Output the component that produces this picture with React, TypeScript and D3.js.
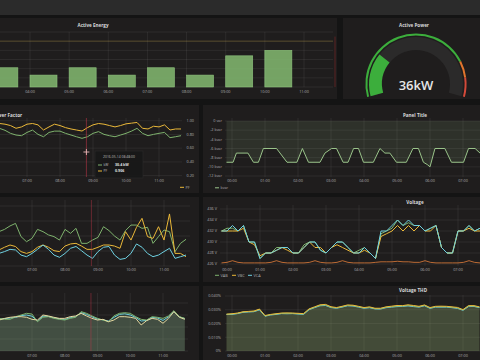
import * as d3 from "d3";

const GREEN = "#7EB26D";
const YELLOW = "#EAB839";
const BLUE = "#6ED0E0";
const ORANGE = "#EF843C";
const PANEL = "#1f1d1d";
const GRID = "rgba(255,255,255,0.09)";
const TICK = "#aeaeae";
const TITLE = "#d8d9da";
const FONT = "'Open Sans', 'Noto Sans', sans-serif";

const at = (h: number, m = 0) => new Date(2016, 4, 14, h, m);
const fmtHour = d3.timeFormat("%H:%M");

// Active Energy, one bar per hour (kWh)
const energyHours = [3, 4, 5, 6, 7, 8, 9, 10];
const energyValues = [21, 13, 21, 13, 21, 13, 34, 40];
const energyThreshold = 50;

// Active Power gauge (kW)
const powerValue = 36;
const powerMax = 140;
const powerWarn = 112;
const powerCrit = 125;

// Power Factor panel, 10 minute samples from 06:00
const pfStart = at(6, 0);
const pfKw = [37.5, 37.1, 35.6, 33.3, 32, 31.5, 34, 35.8, 32.5, 30.7, 34, 35, 35, 33.3, 32, 30.7, 29.5, 30.7, 33.3, 34.6, 32.5, 31.5, 30.7, 32, 33.3, 35, 37.1, 33.3, 31.5, 32.5, 33.3, 34, 30, 30.7, 31.5];
const pfValues = [0.95, 0.96, 0.95, 0.93, 0.89, 0.91, 0.95, 0.96, 0.94, 0.865, 0.91, 0.95, 0.93, 0.9, 0.88, 0.865, 0.85, 0.9, 0.94, 0.96, 0.95, 0.93, 0.91, 0.93, 0.955, 0.965, 0.975, 0.89, 0.88, 0.92, 0.91, 0.94, 0.865, 0.88, 0.88];
const pfTicks = [0.2, 0.4, 0.6, 0.8, 1.0];
const cursorTime = at(8, 48);

// Panel Title (reactive power), irregular samples, minutes after 00:00
const kvarMinutes = [-10, 2, 8, 29, 39, 48, 57, 81, 100, 118, 128, 139, 160, 169, 181, 190, 202, 211, 221, 230, 239, 257, 269, 278, 287, 299, 317, 329, 339, 348, 355, 360, 369, 387, 399, 421, 430, 442, 451];
const kvarValues = [-9, -9, -7, -7, -9, -9, -6, -6, -9, -9, -6, -9, -9, -7, -6, -6, -9, -9, -6, -6, -9, -9, -6, -7, -7, -9, -9, -6, -6, -9, -9.5, -10, -6, -6, -9, -9, -6, -6, -7];
const kvarTicks = [-12, -10, -8, -6, -4, -2, 0];

// third row left, 10 minute samples from 06:00
const curStart = at(6, 0);
const curGreen = [22.9, 24.4, 26.7, 28.4, 19.6, 16.2, 18.4, 24.4, 22.9, 20.7, 19.6, 17.3, 24.4, 21.8, 25.1, 15.1, 15.1, 17.3, 19.1, 26.2, 23.6, 20.0, 17.3, 23.6, 27.3, 27.3, 25.1, 25.8, 15.1, 19.6, 24.0, 22.9, 9.6, 15.1, 17.8];
const curYellow = [10.7, 12.5, 14.0, 13.0, 9.6, 8.4, 9.6, 12.5, 14.0, 12.5, 10.2, 9.6, 13.3, 14.7, 15.1, 13.3, 11.1, 11.1, 12.5, 14.0, 14.0, 13.3, 11.8, 22.9, 17.3, 25.8, 31.8, 19.6, 18.4, 26.2, 17.3, 34.7, 8.4, 8.4, 6.2];
const curBlue = [8.4, 9.6, 11.1, 10.7, 7.3, 6.2, 8.4, 11.1, 14.0, 11.1, 7.3, 5.8, 8.4, 11.8, 13.0, 10.2, 7.3, 5.1, 9.6, 12.5, 13.0, 7.3, 4.4, 5.1, 8.4, 14.7, 12.5, 8.4, 6.2, 7.3, 9.6, 11.8, 5.1, 6.2, 7.3];
const curTicks = [0, 10, 20, 30, 40];

// Voltage, 10 minute samples from 23:50
const voltStart = at(0, -10);
const vab = [432, 432.5, 432.5, 432, 433, 430, 430, 427, 428, 428, 429, 429, 429, 428, 428, 429.5, 430, 430, 428.5, 428, 429, 430, 430, 429, 428, 428.5, 429, 428, 427, 431.5, 432, 432.5, 434, 433, 433.5, 433, 433, 432, 432.5, 433, 429, 428, 428, 432, 432, 433, 432, 432.5];
const vbc = [432, 432, 432, 432, 432.5, 430, 429.5, 427.5, 428, 428, 428.5, 429, 428.5, 428, 428, 429, 430, 429, 429, 428, 429, 429.5, 429, 428.5, 428, 428, 428.5, 428, 427, 431, 431.5, 432, 433, 432, 433, 432, 433, 432, 432, 433, 429, 428, 428, 432, 432, 432.5, 432, 432];
const vca = [432, 432, 433, 432, 433, 430, 430, 427, 428, 428, 428.5, 429, 429, 428, 428, 429, 430, 430, 428.5, 428, 429, 430, 430, 429, 428, 428, 429, 428, 427, 432, 432, 433, 434, 433, 434, 433, 433, 432, 432.5, 433, 429, 428, 428, 432, 432, 433, 432, 432.5];
const vLow = [426.2, 426.3, 426.6, 426.3, 426.2, 426.2, 426.2, 426.2, 426.2, 426.3, 426.6, 426.3, 426.2, 426.2, 426.2, 426.2, 426.3, 426.6, 426.3, 426.2, 426.2, 426.3, 426.6, 426.3, 426.2, 426.2, 426.2, 426.2, 426.3, 426.4, 426.4, 426.4, 426.5, 426.4, 426.4, 426.3, 426.3, 426.6, 426.3, 426.2, 426.2, 426.2, 426.2, 426.2, 426.3, 426.6, 426.3, 426.2];
const voltTicks = [426, 428, 430, 432, 434, 436];

// fourth row left, 10 minute samples from 06:00
const thdLStart = at(6, 0);
const thdLGreen = [2.72, 2.64, 2.64, 2.86, 3.0, 3.14, 3.08, 2.44, 2.81, 2.86, 2.72, 2.64, 2.58, 2.72, 2.81, 3.28, 3.14, 2.92, 2.72, 2.58, 2.44, 2.92, 3.14, 3.19, 3.14, 2.86, 2.64, 2.58, 2.86, 2.81, 2.72, 2.92, 3.36, 2.86, 2.72];
const thdLYellow = [2.58, 2.72, 2.81, 2.86, 2.86, 2.81, 2.64, 2.58, 3.0, 2.92, 2.81, 2.72, 2.72, 2.86, 2.92, 3.14, 2.92, 2.72, 2.58, 2.64, 2.44, 2.58, 2.86, 2.86, 2.81, 2.72, 2.17, 2.53, 2.72, 2.64, 2.31, 2.72, 3.28, 2.81, 2.64];
const thdLBlue = [2.66, 2.7, 2.75, 2.8, 2.95, 3.0, 2.9, 2.5, 2.9, 2.88, 2.76, 2.68, 2.62, 2.78, 2.86, 3.2, 3.05, 2.85, 2.66, 2.6, 2.5, 2.8, 3.05, 3.1, 3.0, 2.8, 2.5, 2.55, 2.8, 2.75, 2.55, 2.85, 3.3, 2.85, 2.7];
const thdLTicks = [0, 1, 2, 3, 4];

// Voltage THD (%), 10 minute samples from 23:50
const thdStart = at(0, -10);
const thdGreen = [0.0267, 0.0269, 0.0274, 0.0284, 0.0286, 0.0288, 0.0303, 0.0255, 0.0264, 0.0269, 0.0274, 0.0274, 0.0274, 0.0271, 0.0269, 0.0303, 0.0318, 0.0332, 0.0335, 0.0318, 0.0313, 0.0322, 0.0332, 0.033, 0.0322, 0.0313, 0.0318, 0.0308, 0.0308, 0.0318, 0.0322, 0.0327, 0.0327, 0.0332, 0.0327, 0.0322, 0.0332, 0.0313, 0.0322, 0.0322, 0.0322, 0.0318, 0.0313, 0.0298, 0.0327, 0.0327, 0.0318];
const thdYellow = [0.0268, 0.0271, 0.0276, 0.0285, 0.0288, 0.0291, 0.0305, 0.0258, 0.0266, 0.0271, 0.0276, 0.0277, 0.0276, 0.0274, 0.0272, 0.0306, 0.0321, 0.0336, 0.0339, 0.0322, 0.0316, 0.0325, 0.0335, 0.0333, 0.0325, 0.0316, 0.0321, 0.0311, 0.0311, 0.0321, 0.0326, 0.0331, 0.033, 0.0336, 0.0331, 0.0325, 0.0335, 0.0316, 0.0325, 0.0326, 0.0325, 0.0321, 0.0317, 0.0301, 0.033, 0.033, 0.0321];
const thdBlue = [0.0265, 0.0266, 0.0272, 0.0281, 0.0284, 0.0286, 0.0299, 0.0253, 0.0262, 0.0266, 0.0272, 0.0271, 0.0272, 0.0269, 0.0266, 0.03, 0.0315, 0.0329, 0.0331, 0.0316, 0.0311, 0.0319, 0.0329, 0.0327, 0.0319, 0.0311, 0.0315, 0.0306, 0.0305, 0.0315, 0.0319, 0.0323, 0.0324, 0.0328, 0.0323, 0.0319, 0.0329, 0.031, 0.0319, 0.0319, 0.0319, 0.0315, 0.031, 0.0296, 0.0323, 0.0324, 0.0315];
const thdTicks = [0, 0.01, 0.02, 0.03, 0.04];

type Pt = { t: Date; v: number };
const every10 = (start: Date, values: number[]): Pt[] =>
  values.map((v, i) => ({ t: new Date(+start + i * 600000), v }));

type Series = {
  pts: Pt[];
  color: string;
  y?: d3.ScaleLinear<number, number>;
  fill?: number;
  base?: number;
  opacity?: number;
};

type Plot = { left: number; right: number; top: number; bottom: number };

function TimePanel(props: {
  id: string;
  box: [number, number, number, number];
  title?: string;
  titleX?: number;
  titleY?: number;
  plot: Plot;
  x: d3.ScaleTime<number, number>;
  y: d3.ScaleLinear<number, number>;
  yTicks: number[];
  yFormat?: (v: number) => string;
  yLabelX?: number;
  yAnchor?: "start" | "end";
  series: Series[];
  labelY: number;
  legend?: { label: string; color: string; x: number }[];
  legendY?: number;
  children?: any;
}) {
  const { id, box, plot, x, y } = props;
  const hours = d3.timeHour.range(x.invert(plot.left - 8), x.invert(plot.right));
  // labels that would be cut by the window edge are left out
  const labelled = hours.filter((h) => x(h) > 10);
  return (
    <g>
      <defs>
        <clipPath id={id}>
          <rect x={plot.left} y={plot.top} width={plot.right - plot.left} height={plot.bottom - plot.top} />
        </clipPath>
      </defs>
      <rect x={box[0]} y={box[1]} width={box[2]} height={box[3]} fill={PANEL} />
      {props.title && (
        <text x={props.titleX} y={props.titleY} fontSize={4.6} fontWeight={700} fill={TITLE} textAnchor="middle">
          {props.title}
        </text>
      )}
      {props.yTicks.map((v) => (
        <line key={"h" + v} x1={plot.left} x2={plot.right} y1={y(v)} y2={y(v)} stroke={GRID} strokeWidth={0.7} />
      ))}
      {hours.map((h) => (
        <line key={"v" + +h} x1={x(h)} x2={x(h)} y1={plot.top} y2={plot.bottom} stroke={GRID} strokeWidth={0.7} />
      ))}
      <g clipPath={`url(#${id})`}>
        {props.series.map((s, i) => {
          const ys = s.y ?? y;
          if (!s.fill) return null;
          const area = d3
            .area<Pt>()
            .x((d) => x(d.t))
            .y0(ys(s.base ?? 0))
            .y1((d) => ys(d.v));
          return <path key={"a" + i} d={area(s.pts) ?? ""} fill={s.color} fillOpacity={s.fill} />;
        })}
        {props.series.map((s, i) => {
          const ys = s.y ?? y;
          const line = d3
            .line<Pt>()
            .x((d) => x(d.t))
            .y((d) => ys(d.v));
          return (
            <path key={"l" + i} d={line(s.pts) ?? ""} fill="none" stroke={s.color} strokeOpacity={s.opacity ?? 1} strokeWidth={1} />
          );
        })}
        {props.children}
      </g>
      {props.yFormat &&
        props.yTicks.map((v) => (
          <text key={"yl" + v} x={props.yLabelX} y={y(v) + 1.3} fontSize={3.8} fill={TICK} textAnchor={props.yAnchor ?? "end"}>
            {props.yFormat!(v)}
          </text>
        ))}
      {labelled.map((h) => (
        <text key={"xl" + +h} x={x(h)} y={props.labelY} fontSize={3.8} fill={TICK} textAnchor="middle">
          {fmtHour(h)}
        </text>
      ))}
      {props.legend?.map((l) => (
        <g key={l.label}>
          <line x1={l.x} x2={l.x + 4} y1={props.legendY! - 1.2} y2={props.legendY! - 1.2} stroke={l.color} strokeWidth={1} />
          <text x={l.x + 5.5} y={props.legendY} fontSize={3.8} fill={TICK}>
            {l.label}
          </text>
        </g>
      ))}
    </g>
  );
}

function EnergyPanel() {
  const x = d3.scaleTime().domain([at(4), at(11)]).range([30, 304]);
  const y = d3.scaleLinear().domain([0, 60]).range([87, 32]);
  const left = 0;
  const right = 333;
  const hours = d3.timeHour.range(x.invert(left), x.invert(right));
  const barW = (x(at(1)) - x(at(0))) * 0.69;
  return (
    <g>
      <rect x={-10} y={18} width={347} height={81} fill={PANEL} />
      <text x={93} y={27} fontSize={4.6} fontWeight={700} fill={TITLE} textAnchor="middle">
        Active Energy
      </text>
      {y.ticks(6).map((v) => (
        <line key={v} x1={left} x2={right} y1={y(v)} y2={y(v)} stroke={GRID} strokeWidth={0.7} />
      ))}
      {hours.map((h) => (
        <line key={+h} x1={x(h)} x2={x(h)} y1={y(60)} y2={y(0)} stroke={GRID} strokeWidth={0.7} />
      ))}
      <line x1={left} x2={right} y1={y(energyThreshold)} y2={y(energyThreshold)} stroke={YELLOW} strokeOpacity={0.3} strokeWidth={0.8} />
      <line x1={335} x2={335} y1={y(55)} y2={y(0)} stroke="#6a2424" strokeWidth={0.8} />
      {energyHours.map((h, i) => (
        <rect
          key={h}
          x={x(at(h))}
          y={y(energyValues[i])}
          width={barW}
          height={y(0) - y(energyValues[i])}
          fill={GREEN}
          fillOpacity={0.9}
          stroke="#8fc47d"
          strokeWidth={0.6}
        />
      ))}
      {hours.map((h) => (
        <text key={"t" + +h} x={x(h)} y={93} fontSize={3.8} fill={TICK} textAnchor="middle">
          {fmtHour(h)}
        </text>
      ))}
    </g>
  );
}

function GaugePanel() {
  const cx = 416;
  const cy = 84;
  const a = d3.scaleLinear().domain([0, powerMax]).range([(-105 * Math.PI) / 180, (105 * Math.PI) / 180]);
  const arc = d3.arc<any>();
  const bands = [
    { from: 0, to: powerWarn, color: "#3cae3c" },
    { from: powerWarn, to: powerCrit, color: "#e0752d" },
    { from: powerCrit, to: powerMax, color: "#d44a3a" },
  ];
  return (
    <g>
      <rect x={343} y={18} width={150} height={81} fill={PANEL} />
      <text x={414} y={26.5} fontSize={4.6} fontWeight={700} fill={TITLE} textAnchor="middle">
        Active Power
      </text>
      <g transform={`translate(${cx},${cy})`}>
        <path d={arc({ innerRadius: 34, outerRadius: 47, startAngle: a(0), endAngle: a(powerMax) }) ?? ""} fill="#2b2a2a" />
        <path d={arc({ innerRadius: 34, outerRadius: 47, startAngle: a(0), endAngle: a(powerValue) }) ?? ""} fill="#3cae3c" />
        {bands.map((b) => (
          <path
            key={b.color}
            d={arc({ innerRadius: 48.6, outerRadius: 50.6, startAngle: a(b.from), endAngle: a(b.to) }) ?? ""}
            fill={b.color}
          />
        ))}
      </g>
      <text x={cx} y={89.5} fontSize={13} fontWeight={600} fill="#e6e6e6" textAnchor="middle">
        {powerValue}kW
      </text>
    </g>
  );
}

export default function App() {
  // Power Factor
  const pfX = d3.scaleTime().domain([at(7), at(11)]).range([27, 159]);
  const pfY = d3.scaleLinear().domain([0.18, 1.04]).range([177, 118]);
  const kwY = d3.scaleLinear().domain([0, 45]).range([177, 118]);
  const cx = pfX(cursorTime);

  // Panel Title (kvar)
  const kX = d3.scaleTime().domain([at(0), at(7)]).range([232, 463]);
  const kY = d3.scaleLinear().domain([-12, 0]).range([176, 121]);
  const kvarPts = kvarMinutes.map((m, i) => ({ t: at(0, m), v: kvarValues[i] }));

  // third row
  const cX = d3.scaleTime().domain([at(7), at(11)]).range([32, 164]);
  const cY = d3.scaleLinear().domain([0, 40]).range([266, 206]);
  const vX = d3.scaleTime().domain([at(0), at(7)]).range([227, 458]);
  const vY = d3.scaleLinear().domain([426, 436]).range([264, 209]);

  // fourth row
  const tX = d3.scaleTime().domain([at(7), at(11)]).range([32, 163]);
  const tY = d3.scaleLinear().domain([0, 4.5]).range([351, 297]);
  const hX = d3.scaleTime().domain([at(0), at(7)]).range([232, 463]);
  const hY = d3.scaleLinear().domain([0, 0.04]).range([351, 296]);

  return (
    <svg
      width={480}
      height={360}
      viewBox="0 0 480 360"
      style={{ position: "fixed", left: 0, top: 0 }}
      fontFamily={FONT}
    >
      <rect width={480} height={360} fill="#141414" />
      <rect width={480} height={15} fill="#2b2b2b" />

      <EnergyPanel />
      <GaugePanel />

      <TimePanel
        id="pf"
        box={[-10, 105, 209, 88]}
        title="Power Factor"
        titleX={7}
        titleY={116.5}
        plot={{ left: -10, right: 182, top: 118, bottom: 177 }}
        x={pfX}
        y={pfY}
        yTicks={pfTicks}
        yFormat={(v) => v.toFixed(2)}
        yLabelX={186.5}
        yAnchor="start"
        series={[
          { pts: every10(pfStart, pfKw), color: GREEN, y: kwY },
          { pts: every10(pfStart, pfValues), color: YELLOW },
        ]}
        labelY={181.5}
        legend={[{ label: "PF", color: YELLOW, x: 180 }]}
        legendY={188.5}
      >
        <line x1={cx} x2={cx} y1={118} y2={177} stroke="#c0384a" strokeOpacity={0.7} strokeWidth={0.8} />
      </TimePanel>
      {/* cursor + tooltip */}
      <path d={`M${cx - 3},152H${cx + 3}M${cx},149V155`} stroke="#e8b8b8" strokeWidth={0.9} />
      <rect x={95} y={151} width={48} height={27} fill="#181818" fillOpacity={0.92} stroke="#2e2e2e" strokeWidth={0.5} />
      <text x={119} y={157.5} fontSize={3.4} fill="#bfbfbf" textAnchor="middle">
        2016-05-14 08:48:00
      </text>
      <line x1={98} x2={102} y1={165} y2={165} stroke={GREEN} strokeWidth={1} />
      <text x={103.5} y={166.3} fontSize={3.4} fill="#bfbfbf">kW</text>
      <text x={115} y={166.3} fontSize={3.6} fontWeight={700} fill="#e0e0e0">30.4 kW</text>
      <line x1={98} x2={102} y1={171} y2={171} stroke={YELLOW} strokeWidth={1} />
      <text x={103.5} y={172.3} fontSize={3.4} fill="#bfbfbf">PF</text>
      <text x={115} y={172.3} fontSize={3.6} fontWeight={700} fill="#e0e0e0">0.906</text>

      <TimePanel
        id="kvar"
        box={[203, 105, 290, 88]}
        title="Panel Title"
        titleX={415}
        titleY={116.5}
        plot={{ left: 225, right: 485, top: 118, bottom: 177 }}
        x={kX}
        y={kY}
        yTicks={kvarTicks}
        yFormat={(v) => (v === 0 ? "0 var" : `${v} kvar`)}
        yLabelX={222}
        series={[{ pts: kvarPts, color: "#9ac48a", fill: 0.12, base: 0 }]}
        labelY={181.5}
        legend={[{ label: "kvar", color: "#9ac48a", x: 215 }]}
        legendY={189}
      />

      <TimePanel
        id="cur"
        box={[-10, 197, 209, 85]}
        plot={{ left: -10, right: 190, top: 200, bottom: 266 }}
        x={cX}
        y={cY}
        yTicks={curTicks}
        series={[
          { pts: every10(curStart, curGreen), color: GREEN },
          { pts: every10(curStart, curYellow), color: YELLOW },
          { pts: every10(curStart, curBlue), color: BLUE },
        ]}
        labelY={270.5}
      >
        <line x1={cX(cursorTime)} x2={cX(cursorTime)} y1={200} y2={266} stroke="#c0384a" strokeOpacity={0.55} strokeWidth={0.8} />
      </TimePanel>

      <TimePanel
        id="volt"
        box={[203, 197, 290, 85]}
        title="Voltage"
        titleX={415}
        titleY={203.5}
        plot={{ left: 220, right: 485, top: 205, bottom: 266 }}
        x={vX}
        y={vY}
        yTicks={voltTicks}
        yFormat={(v) => `${v} V`}
        yLabelX={217}
        series={[
          { pts: every10(voltStart, vLow), color: ORANGE, opacity: 0.75 },
          { pts: every10(voltStart, vab), color: GREEN },
          { pts: every10(voltStart, vbc), color: YELLOW },
          { pts: every10(voltStart, vca), color: BLUE },
        ]}
        labelY={270.5}
        legend={[
          { label: "VAB", color: GREEN, x: 215 },
          { label: "VBC", color: YELLOW, x: 232 },
          { label: "VCA", color: BLUE, x: 248 },
        ]}
        legendY={276.5}
      />

      <TimePanel
        id="thdl"
        box={[-10, 286, 209, 80]}
        plot={{ left: -10, right: 188, top: 293, bottom: 351 }}
        x={tX}
        y={tY}
        yTicks={thdLTicks}
        series={[
          { pts: every10(thdLStart, thdLBlue), color: BLUE, fill: 0.1 },
          { pts: every10(thdLStart, thdLGreen), color: GREEN, fill: 0.12 },
          { pts: every10(thdLStart, thdLYellow), color: "#e6d9a0", fill: 0.1 },
        ]}
        labelY={357}
      >
        <line x1={tX(cursorTime)} x2={tX(cursorTime)} y1={293} y2={351} stroke="#c0384a" strokeOpacity={0.55} strokeWidth={0.8} />
      </TimePanel>

      <TimePanel
        id="thd"
        box={[203, 286, 290, 80]}
        title="Voltage THD"
        titleX={413}
        titleY={292}
        plot={{ left: 225, right: 485, top: 295, bottom: 351 }}
        x={hX}
        y={hY}
        yTicks={thdTicks}
        yFormat={(v) => (v === 0 ? "0%" : `${v.toFixed(3)}%`)}
        yLabelX={221}
        series={[
          { pts: every10(thdStart, thdBlue), color: BLUE, fill: 0.1 },
          { pts: every10(thdStart, thdGreen), color: GREEN, fill: 0.12 },
          { pts: every10(thdStart, thdYellow), color: YELLOW, fill: 0.1 },
        ]}
        labelY={356.5}
      />
    </svg>
  );
}
